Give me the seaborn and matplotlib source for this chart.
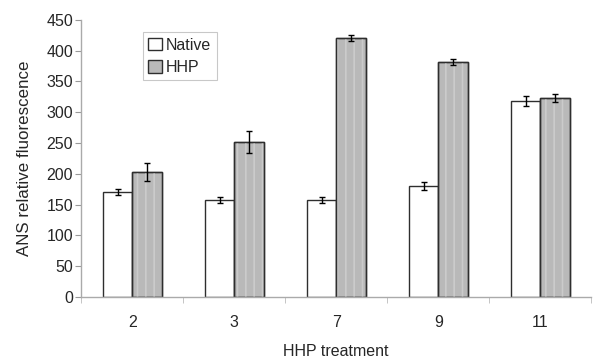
import numpy as np
import pandas as pd
import matplotlib
matplotlib.use('Agg')
import matplotlib.pyplot as plt
from matplotlib.patches import Rectangle
import seaborn as sns

# Data
treatments = ['2', '3', '7', '9', '11']
native = [170, 158, 157, 180, 318]
native_err = [5, 5, 5, 7, 8]
hhp = [203, 251, 420, 382, 323]
hhp_err = [15, 18, 5, 5, 7]

df = pd.DataFrame({
    'treatment': treatments * 2,
    'value': native + hhp,
    'err': native_err + hhp_err,
    'group': ['Native'] * len(treatments) + ['HHP'] * len(treatments),
})

sns.set_style('white')
plt.rcParams['font.family'] = ['Liberation Sans', 'DejaVu Sans']
plt.rcParams['hatch.linewidth'] = 1.2

fs = 11.5
fig = plt.figure(figsize=(5.93, 3.62), dpi=100)
ax = fig.add_axes([0.137, 0.18, 0.86, 0.765])

sns.barplot(data=df, x='treatment', y='value', hue='group', order=treatments,
            hue_order=['Native', 'HHP'], palette={'Native': 'white', 'HHP': '#b9b9b9'},
            width=0.575, errorbar=None, edgecolor='#2e2e2e', linewidth=1.0,
            ax=ax, legend=True)

# subtle light stripes on the HHP bars + error bars at bar centers
n = len(treatments)
for i, p in enumerate(ax.patches[:2 * n]):
    row = df.iloc[i]
    if row['group'] == 'HHP':
        stripes = Rectangle((p.get_x(), p.get_y()), p.get_width(), p.get_height(),
                            facecolor='none', edgecolor='#cbcbcb', linewidth=0,
                            hatch='||', zorder=p.get_zorder() + 0.1)
        ax.add_patch(stripes)
        outline = Rectangle((p.get_x(), p.get_y()), p.get_width(), p.get_height(),
                            facecolor='none', edgecolor='#2e2e2e', linewidth=1.0,
                            zorder=p.get_zorder() + 0.2)
        ax.add_patch(outline)
    cx = p.get_x() + p.get_width() / 2
    ax.errorbar(cx, row['value'], yerr=row['err'], fmt='none', ecolor='black',
                elinewidth=1.0, capsize=2.5, capthick=1.0, zorder=5)

ax.set_ylim(0, 450)
ax.set_xlim(-0.5, n - 0.5)
ax.set_yticks(np.arange(0, 451, 50))
ax.set_xlabel('HHP treatment', fontsize=fs, labelpad=10.5)
ax.set_ylabel('ANS relative fluorescence', fontsize=12.2, labelpad=10)
ax.tick_params(axis='y', labelsize=fs, length=4, color='#999999', direction='out', left=True, pad=2)
ax.tick_params(axis='x', labelsize=fs, length=0, pad=13)
ax.set_xticks(np.arange(-0.5, n), minor=True)
ax.tick_params(axis='x', which='minor', length=4, color='#bbbbbb', direction='out', bottom=True)

for s in ['top', 'right']:
    ax.spines[s].set_visible(False)
for s in ['left', 'bottom']:
    ax.spines[s].set_color('#aaaaaa')
    ax.spines[s].set_linewidth(1.0)

leg = ax.legend(loc='upper left', bbox_to_anchor=(0.105, 0.985), fontsize=fs,
                frameon=True, fancybox=False, handlelength=0.85, handleheight=0.85,
                handletextpad=0.25, borderpad=0.35, labelspacing=0.45)
leg.get_frame().set_edgecolor('#bbbbbb')
leg.get_frame().set_linewidth(0.8)

fig.savefig('out.png', dpi=100)
